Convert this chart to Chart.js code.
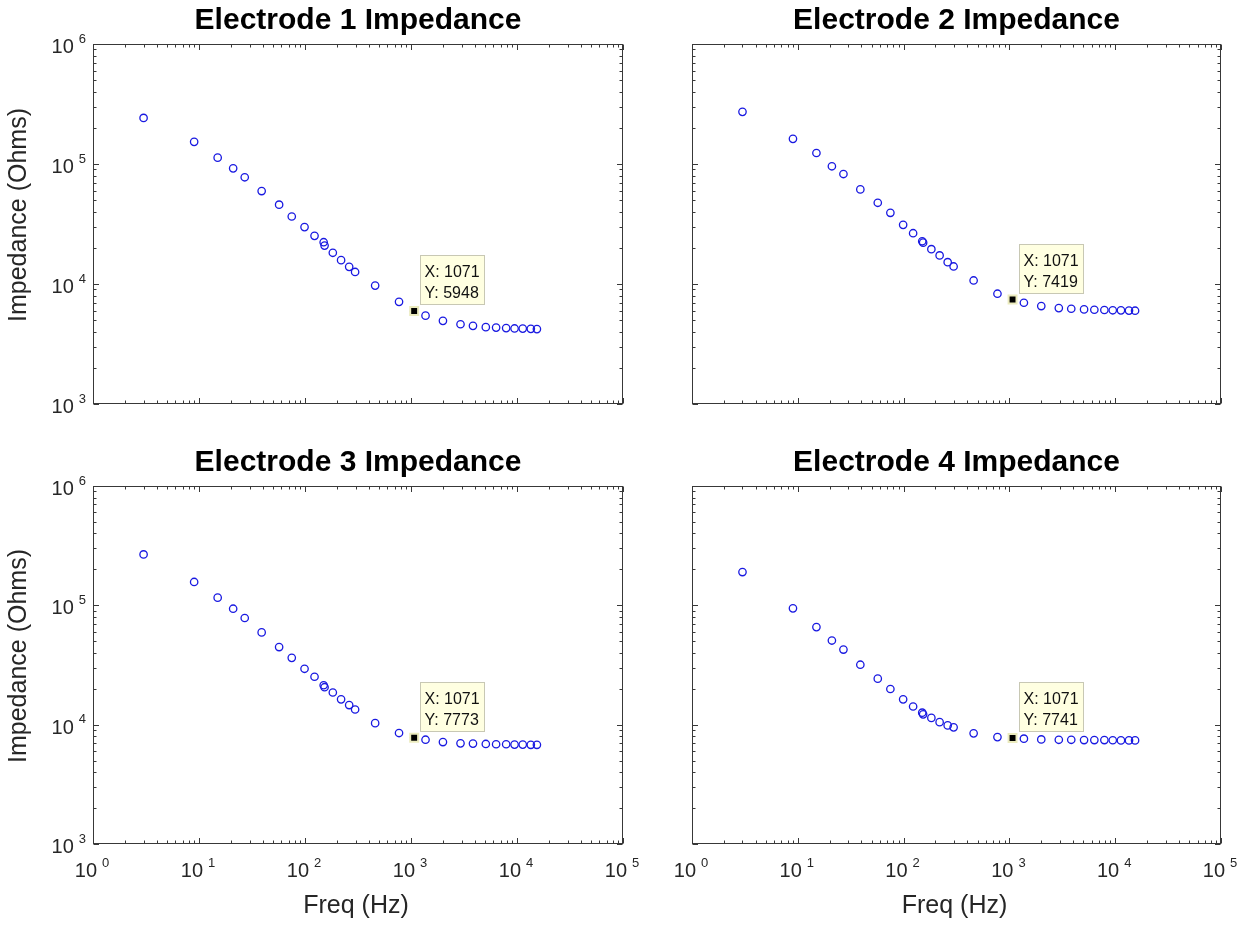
<!DOCTYPE html>
<html>
<head>
<meta charset="utf-8">
<title>Electrode Impedance</title>
<script src="https://cdn.jsdelivr.net/npm/chart.js@4.4.0/dist/chart.umd.min.js"></script>
<style>
  html, body { margin: 0; padding: 0; background: #fff; }
  #fig { position: relative; width: 1244px; height: 926px; overflow: hidden; background: #fff; }
  #fig canvas { position: absolute; }
</style>
</head>
<body>
<div id="fig">
  <canvas id="e1" width="650" height="440" style="left:0px;top:0px"></canvas>
  <canvas id="e2" width="594" height="440" style="left:650px;top:0px"></canvas>
  <canvas id="e3" width="650" height="486" style="left:0px;top:440px"></canvas>
  <canvas id="e4" width="594" height="486" style="left:650px;top:440px"></canvas>
</div>
<script>
// Sweep frequencies (Hz), shared by all four electrodes
const freqHz = [3, 9, 15, 21, 27, 39, 57, 75, 99, 123, 150, 153, 183, 219, 261, 297,
  459, 771, 1071, 1371, 2001, 2931, 3843, 5079, 6351, 7899, 9483, 11331, 13503, 15411];

// Impedance magnitude (Ohms) per electrode
const electrode1 = [242000, 153000, 113000, 92000, 77500, 59500, 45800, 36500, 29800, 25200,
  22300, 20900, 18200, 15800, 13900, 12600, 9700, 7100, 5948, 5450, 4930, 4620, 4480, 4370,
  4330, 4290, 4260, 4250, 4230, 4210];
const electrode2 = [272000, 162000, 123500, 95700, 82500, 61400, 47500, 39200, 31100, 26500,
  22700, 22100, 19500, 17300, 15200, 14000, 10700, 8300, 7419, 6980, 6550, 6300, 6220, 6140,
  6100, 6070, 6040, 6030, 6000, 5990];
const electrode3 = [267000, 157000, 116000, 93700, 78300, 59300, 44700, 36300, 29400, 25200,
  21400, 20600, 18600, 16300, 14600, 13400, 10300, 8510, 7773, 7480, 7150, 6970, 6940, 6890,
  6850, 6850, 6810, 6810, 6780, 6780];
const electrode4 = [190000, 94300, 65700, 50700, 42600, 31800, 24300, 19900, 16300, 14200,
  12600, 12200, 11400, 10500, 9860, 9500, 8460, 7870, 7741, 7630, 7520, 7470, 7470, 7430,
  7430, 7430, 7400, 7380, 7380, 7380];

// Decade tick exponents (labels read as 10^n)
const xDecades = [0, 1, 2, 3, 4, 5];
const yDecades = [3, 4, 5, 6];

// Frequency marked with a data tip on every plot
const tipFreq = 1071;

const AXIS_COLOR = '#383838';
const TEXT_COLOR = '#262626';
const FONT = '"Liberation Sans", Arial, Helvetica, sans-serif';

function fmtNum(v) { return String(Math.round(v)); }

// Draws a MATLAB-style boxed log axes: inward ticks on all sides, 10^n labels,
// title and axis labels, plus a data tip box.
const matlabAxes = {
  id: 'matlabAxes',
  beforeDatasetsDraw(chart, args, o) {
    const { ctx, chartArea: a } = chart;
    const xs = chart.scales.x, ys = chart.scales.y;
    const L = a.left + 0.5, R = a.right - 0.5, T = a.top + 0.5, B = a.bottom - 0.5;
    ctx.save();
    ctx.strokeStyle = AXIS_COLOR;
    ctx.lineWidth = 1;
    ctx.beginPath();
    // x ticks (bottom + top)
    for (let i = 0; i < xDecades.length; i++) {
      const d = xDecades[i];
      for (let m = 1; m <= 9; m++) {
        if (i === xDecades.length - 1 && m > 1) break;
        const v = m * Math.pow(10, d);
        const px = Math.round(xs.getPixelForValue(v)) + 0.5;
        const len = m === 1 ? 5.5 : 3;
        ctx.moveTo(px, B); ctx.lineTo(px, B - len);
        ctx.moveTo(px, T); ctx.lineTo(px, T + len);
      }
    }
    // y ticks (left + right)
    for (let i = 0; i < yDecades.length; i++) {
      const d = yDecades[i];
      for (let m = 1; m <= 9; m++) {
        if (i === yDecades.length - 1 && m > 1) break;
        const v = m * Math.pow(10, d);
        const py = Math.round(ys.getPixelForValue(v)) + 0.5;
        const len = m === 1 ? 5.5 : 3;
        ctx.moveTo(L, py); ctx.lineTo(L + len, py);
        ctx.moveTo(R, py); ctx.lineTo(R - len, py);
      }
    }
    ctx.stroke();
    ctx.strokeRect(L, T, R - L, B - T);

    ctx.fillStyle = TEXT_COLOR;
    const baseFont = '20px ' + FONT, expFont = '13px ' + FONT;

    // x tick labels
    if (o.xLabels) {
      xDecades.forEach(d => {
        const px = xs.getPixelForValue(Math.pow(10, d));
        ctx.font = baseFont; const wb = ctx.measureText('10').width;
        ctx.font = expFont; const we = ctx.measureText(String(d)).width;
        const gap = 5, total = wb + gap + we;
        const x0 = px - 1 - total / 2;
        ctx.textAlign = 'left'; ctx.textBaseline = 'alphabetic';
        ctx.font = baseFont; ctx.fillText('10', x0, a.bottom + 33);
        ctx.font = expFont; ctx.fillText(String(d), x0 + wb + gap, a.bottom + 23);
      });
    }
    // y tick labels
    if (o.yLabels) {
      yDecades.forEach(d => {
        const py = ys.getPixelForValue(Math.pow(10, d));
        ctx.font = expFont; const we = ctx.measureText(String(d)).width;
        const expLeft = a.left - 7 - we;
        ctx.textBaseline = 'alphabetic';
        ctx.textAlign = 'left';
        ctx.fillText(String(d), expLeft, py - 1.5);
        ctx.font = baseFont; ctx.textAlign = 'right';
        ctx.fillText('10', expLeft - 5, py + 9);
      });
    }
    // title
    ctx.fillStyle = '#000';
    ctx.font = 'bold 30px ' + FONT;
    ctx.textAlign = 'center'; ctx.textBaseline = 'alphabetic';
    ctx.fillText(o.title, (a.left + a.right) / 2, a.top - 15.5);

    ctx.fillStyle = TEXT_COLOR;
    ctx.font = '25px ' + FONT;
    if (o.xTitle) {
      ctx.textAlign = 'center';
      ctx.fillText(o.xTitle, (a.left + a.right) / 2 - 2, a.bottom + 69);
    }
    if (o.yTitle) {
      ctx.save();
      ctx.translate(a.left - 67, (a.top + a.bottom) / 2 - 9);
      ctx.rotate(-Math.PI / 2);
      ctx.textAlign = 'center';
      ctx.fillText(o.yTitle, 0, 0);
      ctx.restore();
    }
    ctx.restore();
  },
  afterDatasetsDraw(chart, args, o) {
    const meta = chart.getDatasetMeta(1);
    if (!meta || !meta.data.length) return;
    const pt = meta.data[0];
    const raw = chart.data.datasets[1].data[0];
    const { ctx } = chart;
    const lines = ['X: ' + fmtNum(raw.x), 'Y: ' + fmtNum(raw.y)];
    ctx.save();
    ctx.font = '16px ' + FONT;
    const tw = Math.max(...lines.map(s => ctx.measureText(s).width));
    const bw = Math.round(tw + 9), bh = 49;
    const bx = Math.round(pt.x + 6) + 0.5, by = Math.round(pt.y - 7 - bh) + 0.5;
    ctx.fillStyle = 'rgb(255,255,225)';
    ctx.fillRect(bx, by, bw, bh);
    ctx.strokeStyle = 'rgb(200,200,180)';
    ctx.lineWidth = 1;
    ctx.strokeRect(bx, by, bw, bh);
    ctx.fillStyle = '#111';
    ctx.textAlign = 'left'; ctx.textBaseline = 'alphabetic';
    ctx.fillText(lines[0], bx + 4, by + 21.5);
    ctx.fillText(lines[1], bx + 4, by + 42.5);
    ctx.restore();
  }
};

function makePlot(id, series, title, pad, flags) {
  const tipIdx = freqHz.indexOf(tipFreq);
  const pts = freqHz.map((f, i) => ({ x: f, y: series[i] }));
  return new Chart(document.getElementById(id), {
    type: 'scatter',
    data: {
      datasets: [
        {
          // measured points, drawn underneath the data tip marker
          order: 1,
          data: pts,
          showLine: false,
          pointStyle: 'circle',
          pointRadius: 3.7,
          pointBorderWidth: 1.3,
          pointBorderColor: 'rgb(25,25,225)',
          pointBackgroundColor: 'rgba(0,0,0,0)'
        },
        {
          // data tip marker
          order: 0,
          data: [{ x: freqHz[tipIdx], y: series[tipIdx] }],
          showLine: false,
          pointStyle: 'rect',
          pointRadius: 5.6,
          pointBorderWidth: 2,
          pointBorderColor: 'rgb(235,235,190)',
          pointBackgroundColor: '#000'
        }
      ]
    },
    options: {
      responsive: false,
      animation: false,
      events: [],
      layout: { autoPadding: false, padding: pad },
      plugins: {
        legend: { display: false },
        tooltip: { enabled: false },
        title: { display: false },
        matlabAxes: Object.assign({ title }, flags)
      },
      scales: {
        x: { type: 'logarithmic', min: Math.pow(10, xDecades[0]), max: Math.pow(10, xDecades[xDecades.length - 1]), display: false },
        y: { type: 'logarithmic', min: Math.pow(10, yDecades[0]), max: Math.pow(10, yDecades[yDecades.length - 1]), display: false }
      }
    },
    plugins: [matlabAxes]
  });
}

const padTL = { left: 93, right: 27, top: 44, bottom: 36 };
const padTR = { left: 42, right: 23, top: 44, bottom: 36 };
const padBL = { left: 93, right: 27, top: 46, bottom: 82 };
const padBR = { left: 42, right: 23, top: 46, bottom: 82 };

makePlot('e1', electrode1, 'Electrode 1 Impedance', padTL, { yLabels: true, yTitle: 'Impedance (Ohms)' });
makePlot('e2', electrode2, 'Electrode 2 Impedance', padTR, {});
makePlot('e3', electrode3, 'Electrode 3 Impedance', padBL, { yLabels: true, xLabels: true, yTitle: 'Impedance (Ohms)', xTitle: 'Freq (Hz)' });
makePlot('e4', electrode4, 'Electrode 4 Impedance', padBR, { xLabels: true, xTitle: 'Freq (Hz)' });
</script>
</body>
</html>
